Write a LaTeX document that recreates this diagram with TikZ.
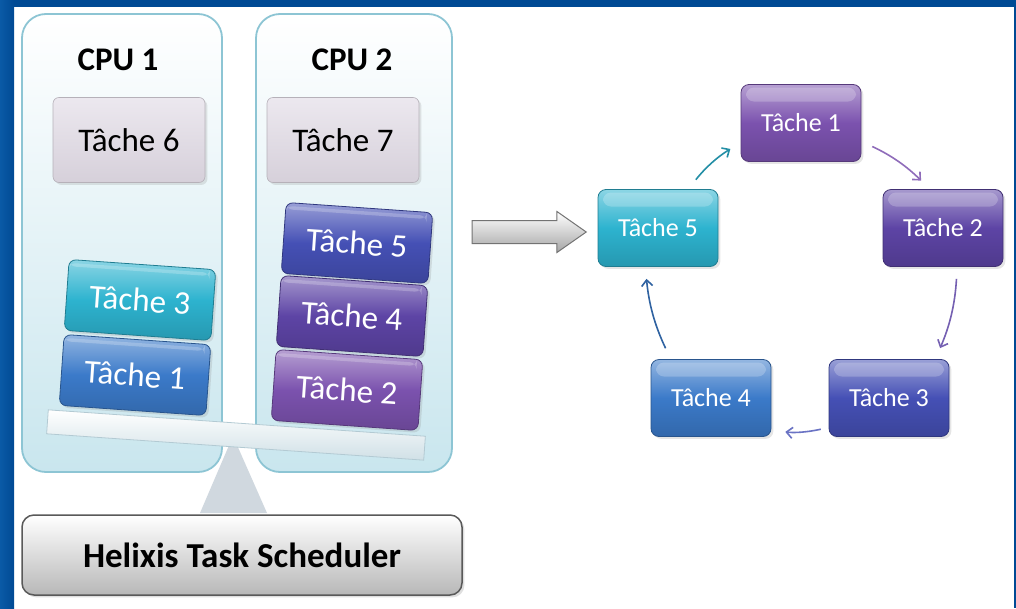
\documentclass[tikz,border=0pt]{standalone}
\usepackage{fontspec}
\setmainfont{Carlito}
\usetikzlibrary{arrows.meta,shapes.arrows,shadows}

\definecolor{cadre}{HTML}{004A94}
\definecolor{cadreclair}{HTML}{0A5AA6}
\definecolor{bordpanneau}{HTML}{8DC5D4}
\definecolor{fondpanneau}{HTML}{C9E6EE}
\definecolor{grisclair}{HTML}{ECE8EF}
\definecolor{gristache}{HTML}{D6D0DA}
\definecolor{tcyan}{HTML}{2DB3CF}
\definecolor{tbleu}{HTML}{3B7AC9}
\definecolor{tindigo}{HTML}{4550B5}
\definecolor{tviolet}{HTML}{5D44A5}
\definecolor{tmauve}{HTML}{7B52AE}
\definecolor{planchefond}{HTML}{D0E0E6}
\definecolor{planchebord}{HTML}{B3CAD3}
\definecolor{pivot}{HTML}{D0D8DF}

\begin{document}
\begin{tikzpicture}[x=1pt, y=-1pt,
    panneau/.style={draw=bordpanneau, line width=1.8pt, rounded corners=24pt,
        top color=white, bottom color=fondpanneau},
    titrecpu/.style={font=\bfseries\fontsize{33}{36}\selectfont},
    brillant/.style={path picture={\fill[white, opacity=0.22]
        ([xshift=5pt,yshift=-3pt]path picture bounding box.north west) rectangle
        ([xshift=-5pt,yshift=-17pt]path picture bounding box.north east);}},
    tachegrise/.style={draw=gristache!85!black, line width=0.6pt, rounded corners=6pt,
        top color=grisclair, bottom color=gristache, minimum width=152pt,
        minimum height=85pt, font=\fontsize{33}{36}\selectfont,
        drop shadow={opacity=0.2}},
    tache/.style={draw=#1!70!black, line width=0.8pt, rounded corners=7pt,
        top color=#1!55!white, bottom color=#1!85!black, middle color=#1,
        text=white, minimum width=147pt, minimum height=71pt, rotate=-4,
        font=\fontsize{33}{36}\selectfont, drop shadow={opacity=0.2}, brillant},
    etape/.style={draw=#1!70!black, line width=0.8pt, rounded corners=8pt,
        top color=#1!55!white, bottom color=#1!85!black, middle color=#1,
        text=white, minimum width=120pt, minimum height=77pt,
        font=\fontsize{26}{30}\selectfont, drop shadow={opacity=0.2}, brillant},
    suite/.style={line width=1.6pt, draw=#1, -{Straight Barb[length=6pt,width=11pt]},
        shorten <=12pt, shorten >=12pt, bend left=10}]

    \useasboundingbox (0,0) rectangle (1016,608);
    \fill[white] (0,0) rectangle (1016,608);
    % cadre bleu
    \fill[cadre] (0,0) rectangle (1016,7);
    \shade[left color=cadreclair, right color=cadre] (0,0) rectangle (14,608);
    \fill[cadre] (1014,0) rectangle (1016,608);

    % les deux processeurs
    \path[panneau] (22,14) rectangle (222,472);
    \path[panneau] (256,14) rectangle (452,472);
    \node[titrecpu] (cpu1) at (118,60) {CPU 1};
    \node[titrecpu] (cpu2) at (352,60) {CPU 2};
    \node[tachegrise] (t6) at (129,140) {Tâche 6};
    \node[tachegrise] (t7) at (343,140) {Tâche 7};

    % balance
    \fill[pivot] (233,436) -- (200,513) -- (267,513) -- cycle;
    \node[draw=planchebord, top color=white, bottom color=planchefond, line width=0.8pt,
        minimum width=378pt, minimum height=24pt, rotate=-4] (planche) at (236,435) {};

    \node[tache=tcyan] (c1t3) at (140,300) {Tâche 3};
    \node[tache=tbleu] (c1t1) at (135,375) {Tâche 1};
    \node[tache=tindigo] (c2t5) at (357,243) {Tâche 5};
    \node[tache=tviolet] (c2t4) at (352,316) {Tâche 4};
    \node[tache=tmauve] (c2t2) at (347,390) {Tâche 2};

    \node[draw=black!65, line width=1.5pt, rounded corners=12pt, top color=white,
        bottom color=black!28, minimum width=440pt, minimum height=80pt,
        font=\bfseries\fontsize{35}{40}\selectfont, drop shadow={opacity=0.25}]
        (ordo) at (242,555) {Helixis Task Scheduler};

    % file circulaire
    \node[single arrow, draw=black!55, line width=1pt, top color=white,
        bottom color=black!35, minimum height=114pt, inner xsep=0pt,
        inner ysep=11pt, text height=0pt, text depth=0pt,
        single arrow head extend=9pt, single arrow tip angle=70] (fleche) at (521,232) {};

    \node[etape=tmauve] (r1) at (801,123) {Tâche 1};
    \node[etape=tviolet] (r2) at (943,228) {Tâche 2};
    \node[etape=tindigo] (r3) at (889,398) {Tâche 3};
    \node[etape=tbleu] (r4) at (711,398) {Tâche 4};
    \node[etape=tcyan] (r5) at (658,228) {Tâche 5};

    \draw[suite=tcyan!80!black] (r5.52) to (r1.198);
    \draw[suite=tmauve!85] (r1.343) to (r2.109);
    \draw[suite=tviolet!85] (r2.290) to (r3.40);
    \draw[suite=tindigo!80, shorten <=8pt, shorten >=14pt] (r3.206) to (r4.332);
    \draw[suite=tbleu!80!black] (r4.136) to (r5.252);
\end{tikzpicture}
\end{document}
